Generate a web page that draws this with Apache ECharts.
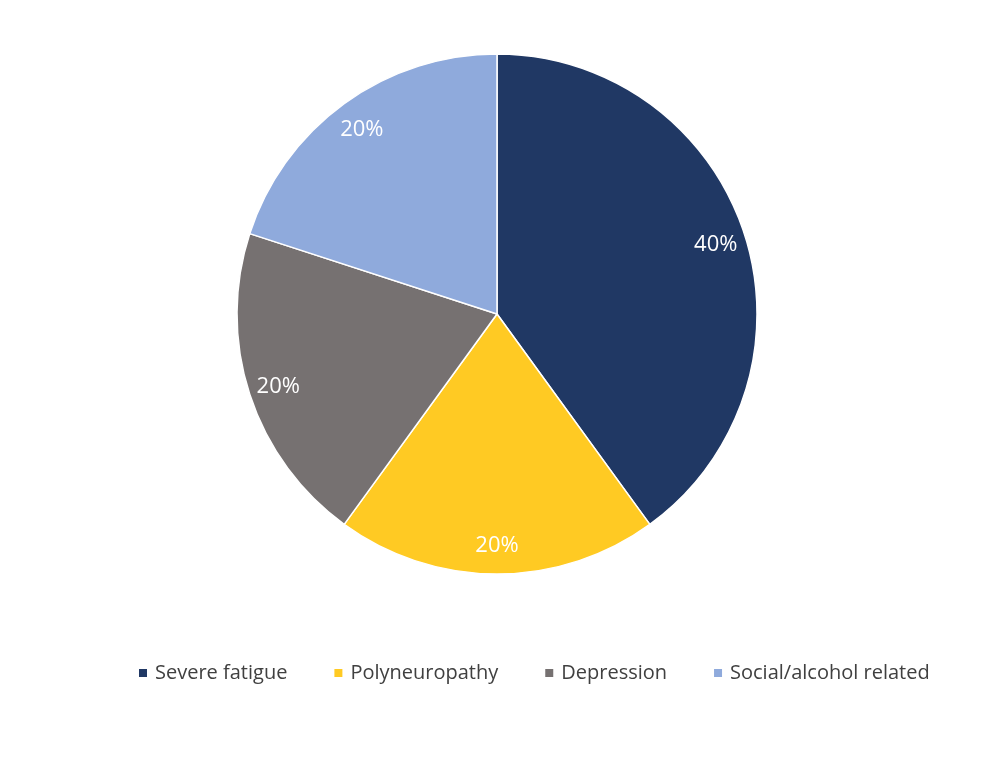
<!DOCTYPE html>
<html>
<head>
<meta charset="utf-8">
<style>
    html, body { margin: 0; padding: 0; background: #fff; }
    #chart { width: 1000px; height: 763px; }
</style>
<script src="https://cdn.jsdelivr.net/npm/echarts@6/dist/echarts.min.js"></script>
</head>
<body>
<div id="chart"></div>
<script>
    // categories and values
    var categories = ['Severe fatigue', 'Polyneuropathy', 'Depression', 'Social/alcohol related'];
    var values = [40, 20, 20, 20];
    var colors = ['#203864', '#FFCA23', '#767171', '#8FAADC'];

    var chart = echarts.init(document.getElementById('chart'));
    var pieData = categories.map(function (name, i) {
        return { name: name, value: values[i], itemStyle: { color: colors[i] } };
    });

    var option = {
        animation: false,
        legend: {
            top: 658,
            left: 132,
            itemWidth: 10,
            itemHeight: 10,
            itemGap: 45,
            icon: 'rect',
            textStyle: { fontFamily: 'Open Sans', fontSize: 20, color: '#404040', padding: [0, 0, 0, 2] },
            data: categories
        },
        series: [
            {
                // the visible pie
                type: 'pie',
                center: [497, 314],
                radius: [0, 260],
                startAngle: 90,
                clockwise: true,
                label: { show: false },
                labelLine: { show: false },
                itemStyle: { borderColor: '#fff', borderWidth: 1.5 },
                data: pieData
            },
            {
                // transparent ring, only used to put the % labels near the rim
                type: 'pie',
                center: [497, 316],
                radius: [194, 260],
                startAngle: 90,
                clockwise: true,
                silent: true,
                legendHoverLink: false,
                itemStyle: { color: 'transparent', borderWidth: 0 },
                label: {
                    show: true,
                    position: 'inside',
                    formatter: '{c}%',
                    fontFamily: 'Open Sans',
                    fontSize: 22,
                    color: '#fff'
                },
                data: categories.map(function (name, i) {
                    return { name: name + ' ', value: values[i] };
                })
            }
        ]
    };
    chart.setOption(option);
</script>
</body>
</html>
